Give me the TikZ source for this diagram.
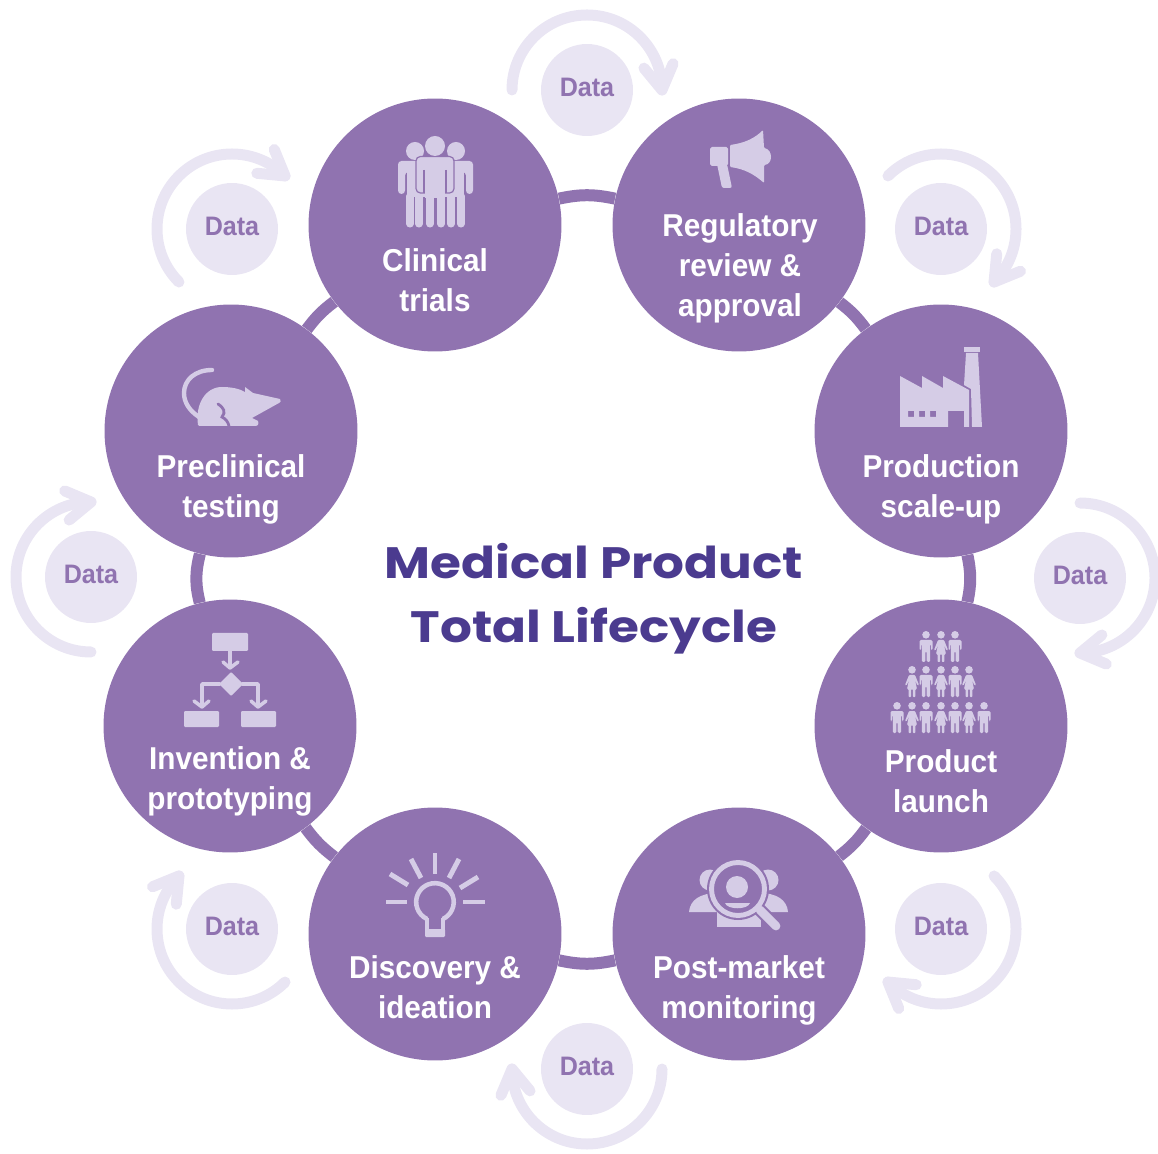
\documentclass[tikz,border=0pt]{standalone}
\usepackage{fontspec}
\setmainfont[FakeStretch=0.94]{Liberation Sans}
\newfontfamily\titlefont[FakeStretch=1.14]{Poppins}
\usetikzlibrary{calc}
\definecolor{stagecol}{HTML}{9073B0}
\definecolor{datacol}{HTML}{E9E5F3}
\definecolor{iconcol}{HTML}{D5CCE6}
\definecolor{titlecol}{HTML}{4B3B8F}
\tikzset{
  stagecircle/.style={circle,fill=stagecol,minimum size=5.06cm,inner sep=0pt},
  stagetext/.style={text=white,font=\fontsize{18}{22.7}\selectfont\bfseries,align=center,inner sep=0pt},
  databubble/.style={circle,fill=datacol,minimum size=1.84cm,inner sep=0pt,text=stagecol,text depth=3.2pt,font=\fontsize{15.2}{16}\selectfont\bfseries},
  ringlink/.style={draw=stagecol,line width=0.24cm},
  dataarc/.style={draw=datacol,line width=0.22cm,line cap=round,line join=round},
  iconline/.style={draw=iconcol,line cap=round,line join=round},
  manicon/.pic={
    \fill[iconcol] (0,3.8) circle (3.8);
    \fill[iconcol,rounded corners=0.8] (-6.5,19)--(-6.5,9)--(6.5,9)--(6.5,19)--(5,19)--(5,13)--(4.2,13)--(4.2,31)--(0.6,31)--(0.6,20)--(-0.6,20)--(-0.6,31)--(-4.2,31)--(-4.2,13)--(-5,13)--(-5,19)--cycle;
  },
  womanicon/.pic={
    \fill[iconcol] (0,3.8) circle (3.8);
    \fill[iconcol,rounded corners=0.5] (-3,9)--(3,9)--(7,19)--(5.5,19.5)--(3,14)--(5,23)--(3.4,23)--(3.4,31)--(0.8,31)--(0.8,23)--(-0.8,23)--(-0.8,31)--(-3.4,31)--(-3.4,23)--(-5,23)--(-3,14)--(-5.5,19.5)--(-7,19)--cycle;
  }
}
\begin{document}
\begin{tikzpicture}[x=0.02cm,y=0.02cm]
\useasboundingbox (0,0) rectangle (1158,1153);

%data bubbles and their arcs
\foreach \i/\cx/\cy/\a in {1/587/1063/180,2/941/924/135,3/1080/575/90,4/941/224/45,5/587/84/0,6/232/224/-45,7/91/576/-90,8/232/924/-135}
{
  \node[databubble] (data\i) at (\cx,\cy) {Data};
  \draw[dataarc] ($(data\i.center)+(\a:75)$) arc[start angle=\a,end angle=\a-180,radius=75];
  \draw[dataarc] ($(data\i.center)+(\a-159:61)$) -- ($(data\i.center)+(\a-180:75)$) -- ($(data\i.center)+(\a-163:90)$);
}

%stages
\node[stagecircle] (clinical) at (435,928) {};
\node[stagecircle] (regulatory) at (739,928) {};
\node[stagecircle] (production) at (941,722) {};
\node[stagecircle] (launch) at (941,427) {};
\node[stagecircle] (postmarket) at (739,219) {};
\node[stagecircle] (discovery) at (435,219) {};
\node[stagecircle] (invention) at (230,427) {};
\node[stagecircle] (preclinical) at (231,722) {};

%ring
\draw[ringlink] (clinical) to[bend left=12] (regulatory);
\draw[ringlink] (regulatory) to[bend left=8] (production);
\draw[ringlink] (production) to[bend left=12] (launch);
\draw[ringlink] (launch) to[bend left=8] (postmarket);
\draw[ringlink] (postmarket) to[bend left=12] (discovery);
\draw[ringlink] (discovery) to[bend left=8] (invention);
\draw[ringlink] (invention) to[bend left=14] (preclinical);
\draw[ringlink] (preclinical) to[bend left=8] (clinical);

%labels
\node[stagetext] (clinicallabel) at (435,873) {Clinical\\trials};
\node[stagetext] (regulatorylabel) at (740,885) {Regulatory\\review \&\\approval};
\node[stagetext] (productionlabel) at (941,664) {Production\\scale-up};
\node[stagetext] (launchlabel) at (941,372) {Product\\launch};
\node[stagetext] (postmarketlabel) at (739,163) {Post-market\\monitoring};
\node[stagetext] (discoverylabel) at (435,166) {Discovery \&\\ideation};
\node[stagetext] (inventionlabel) at (230,372) {Invention \&\\prototyping};
\node[stagetext] (preclinicallabel) at (231,664) {Preclinical\\testing};

%title
\node[text=titlecol,font=\fontsize{25}{36.5}\selectfont\titlefont\bfseries,align=center,inner sep=0pt] (title) at (594,554) {Medical Product\\Total Lifecycle};

%icons, pixel coordinates from here on
\begin{scope}[shift={(0,1153)},yscale=-1]

%people
\fill[iconcol] (415,151) circle (9) (456,151) circle (9);
\fill[iconcol,rounded corners=2] (398,194)--(398,161)--(473,161)--(473,194)--(466,194)--(466,172)--(405,172)--(405,194)--cycle;
\fill[iconcol] (407,165) rectangle (464,197);
\foreach \x in {410,419,430,441,451,461}
  \draw[iconline,line width=4pt] (\x,196)--(\x,224);
\filldraw[fill=iconcol,draw=stagecol,line width=0.7pt,rounded corners=2.5] (416,193)--(416,156.5)--(454,156.5)--(454,193)--cycle;
\draw[stagecol,line width=0.7pt] (424,170)--(424,193) (446,170)--(446,193);
\fill[iconcol] (424.6,189) rectangle (445.4,198);
\fill[iconcol] (435,146) circle (10);

%megaphone
\fill[iconcol,rounded corners=1] (710,147) rectangle (728,166);
\fill[iconcol,rounded corners=0.6] (730,145) .. controls (745,143) and (755,138) .. (763,130)--(764,148) .. controls (773,150) and (773,164) .. (764,165)--(764,183) .. controls (755,175) and (745,169) .. (730,167)--cycle;
\fill[iconcol,rounded corners=1.2] (717,164)--(722,188)--(732,188)--(727,164)--cycle;

%factory
\fill[iconcol] (964,347) rectangle (980,352);
\fill[iconcol] (966,353)--(978,353)--(982,427)--(972,427)--(971,389)--(964,385)--cycle;
\fill[iconcol,even odd rule] (900,427)--(900,376)--(922,388)--(922,376)--(943,388)--(943,376)--(969,390)--(969,427)--(964,427)--(964,411)--(948,411)--(948,427)--cycle
  (908,411) rectangle (914,417) (919,411) rectangle (925,417) (930,411) rectangle (936,417);

%crowd
\foreach \x in {926,955}
  \pic[transform shape] at (\x,631) {manicon};
\pic[transform shape] at (941,631) {womanicon};
\foreach \x in {926,955}
  \pic[transform shape] at (\x,666) {manicon};
\foreach \x in {912,941,969}
  \pic[transform shape] at (\x,666) {womanicon};
\foreach \x in {897,926,955,984}
  \pic[transform shape] at (\x,702) {manicon};
\foreach \x in {912,941,969}
  \pic[transform shape] at (\x,702) {womanicon};

%magnifier
\fill[iconcol] (710,880) circle (10.5) (768,880) circle (10.5);
\fill[iconcol] (689,912) .. controls (690,900) and (700,893) .. (718,893)--(718,912)--cycle;
\fill[iconcol] (788,912) .. controls (787,900) and (777,893) .. (759,893)--(759,912)--cycle;
\fill[iconcol] (717,905) rectangle (761,927);
\fill[stagecol] (738,889) circle (31);
\draw[stagecol,line width=7.4pt,line cap=round] (760,910)--(776,926);
\draw[iconcol,line width=5pt,line cap=round] (760,910)--(776,926);
\draw[iconcol,line width=2.8pt] (738,889) circle (26.5);
\fill[iconcol] (737,887) circle (11);
\fill[iconcol] (725,903) -- (750,903) .. controls (748,910) and (727,910) .. (725,903) -- cycle;

%bulb
\foreach \ax/\ay/\bx/\by in {435/853/435/874,411/859/421/878,459/859/449/878,390/874/408/885,478/877/460/888,386/902/407/902,463/902/485/902}
  \draw[iconcol,line width=2.8pt] (\ax,\ay)--(\bx,\by);
\draw[iconcol,line width=2.6pt] (427,919) arc[start angle=115,end angle=425,radius=18.8];
\draw[iconcol,line width=2.6pt] (427,918)--(427,932) (443,918)--(443,932);
\fill[iconcol,rounded corners=0.6] (425,929) rectangle (445,937);

%flowchart
\fill[iconcol,rounded corners=0.6] (212,633) rectangle (248,651);
\fill[iconcol,rounded corners=0.6] (184,711) rectangle (219,727);
\fill[iconcol,rounded corners=0.6] (241,711) rectangle (276,727);
\fill[iconcol,rounded corners=0.6] (231,672)--(243,684)--(231,696)--(219,684)--cycle;
\draw[iconline,line width=2pt] (230,651)--(230,668) (223,662)--(230,668)--(238,662);
\draw[iconline,line width=2pt] (220,684)--(202,684)--(202,707) (194,701)--(202,707)--(209,701);
\draw[iconline,line width=2pt] (242,684)--(258,684)--(258,707) (251,701)--(258,707)--(266,701);

%rat
\draw[iconline,line width=2.5pt] (212,370) .. controls (195,370) and (184,380) .. (184,393) .. controls (184,403) and (190,411) .. (199,417);
\fill[iconcol] (198,425) .. controls (195,405) and (205,387) .. (222,387) .. controls (232,387) and (240,389) .. (245,392) -- (245,387) -- (253,393) -- (280,399) .. controls (281,401) and (281,402) .. (279,403) -- (252,418) -- (258,421) .. controls (259,424) and (258,426) .. (255,426) -- (222,426) -- (203,426) .. controls (200,426) and (198,426) .. (198,425) -- cycle;
\draw[stagecol,line width=1.6pt,line cap=round] (218,404) .. controls (224,408) and (226,412) .. (222,417) .. controls (226,419) and (228,422) .. (229,426);
\end{scope}
\end{tikzpicture}
\end{document}
